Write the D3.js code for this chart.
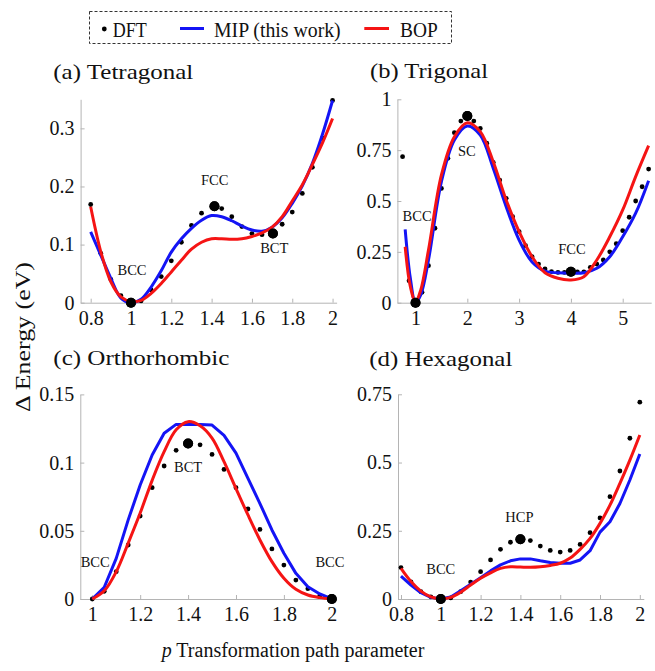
<!DOCTYPE html>
<html>
<head>
<meta charset="utf-8">
<script src="https://cdn.jsdelivr.net/npm/d3@7/dist/d3.min.js"></script>
<style>
  html, body { margin: 0; padding: 0; background: #fff; }
  svg { display: block; }
  text { font-family: "Liberation Serif", "Times New Roman", Times, serif; fill: #111; }
</style>
</head>
<body>
<svg id="chart" width="655" height="671"></svg>
<script>
// ---- (a) Tetragonal path ----
const tetraDftP = [0.8, 0.85, 0.9, 0.95, 1.0, 1.05, 1.1, 1.15, 1.2, 1.25, 1.3, 1.35, 1.414, 1.45, 1.5, 1.55, 1.6, 1.65, 1.704, 1.75, 1.8, 1.85, 1.9, 1.95, 2.0];
const tetraDftE = [0.169, 0.085, 0.040, 0.012, 0.0, 0.003, 0.022, 0.045, 0.072, 0.104, 0.133, 0.154, 0.166, 0.162, 0.148, 0.131, 0.119, 0.117, 0.119, 0.135, 0.156, 0.188, 0.233, 0.283, 0.348];
const tetraMarked = [1.0, 1.414, 1.704];
const tetraFitP = [0.8, 0.85, 0.9, 0.95, 1.0, 1.05, 1.1, 1.15, 1.2, 1.25, 1.3, 1.35, 1.4, 1.45, 1.5, 1.55, 1.6, 1.65, 1.7, 1.75, 1.8, 1.85, 1.9, 1.95, 2.0];
const tetraMip = [0.122, 0.082, 0.042, 0.008, 0.0, 0.006, 0.027, 0.055, 0.087, 0.110, 0.128, 0.142, 0.150, 0.148, 0.141, 0.132, 0.125, 0.123, 0.130, 0.146, 0.171, 0.201, 0.240, 0.290, 0.348];
const tetraBop = [0.165, 0.088, 0.036, 0.010, 0.002, 0.004, 0.016, 0.033, 0.053, 0.073, 0.092, 0.104, 0.110, 0.110, 0.109, 0.110, 0.114, 0.120, 0.130, 0.148, 0.175, 0.203, 0.238, 0.275, 0.317];

// ---- (b) Trigonal path ----
const trigDftP = [0.75, 0.875, 1.0, 1.125, 1.25, 1.375, 1.5, 1.625, 1.75, 1.875, 2.0, 2.125, 2.25, 2.375, 2.5, 2.625, 2.75, 2.875, 3.0, 3.125, 3.25, 3.375, 3.5, 3.625, 3.75, 3.875, 4.0, 4.125, 4.25, 4.375, 4.5, 4.625, 4.75, 4.875, 5.0, 5.125, 5.25, 5.375, 5.5];
const trigDftE = [0.718, 0.108, 0.0, 0.051, 0.182, 0.366, 0.562, 0.710, 0.836, 0.893, 0.918, 0.893, 0.857, 0.784, 0.690, 0.603, 0.513, 0.423, 0.349, 0.280, 0.226, 0.190, 0.166, 0.153, 0.149, 0.149, 0.152, 0.152, 0.152, 0.174, 0.190, 0.210, 0.250, 0.290, 0.354, 0.420, 0.500, 0.570, 0.657];
const trigMarked = [1.0, 2.0, 4.0];
const trigFitP = [0.8, 0.9, 1.0, 1.1, 1.25, 1.5, 1.75, 2.0, 2.25, 2.5, 2.75, 3.0, 3.25, 3.5, 3.75, 4.0, 4.25, 4.5, 4.75, 5.0, 5.25, 5.5];
const trigMip = [0.361, 0.120, 0.0, 0.038, 0.210, 0.595, 0.800, 0.869, 0.824, 0.661, 0.472, 0.308, 0.200, 0.155, 0.147, 0.145, 0.147, 0.169, 0.226, 0.324, 0.440, 0.600];
const trigBop = [0.275, 0.079, 0.005, 0.062, 0.259, 0.628, 0.816, 0.885, 0.841, 0.693, 0.505, 0.349, 0.226, 0.147, 0.120, 0.112, 0.128, 0.210, 0.324, 0.456, 0.620, 0.772];

// ---- (c) Orthorhombic path ----
const orthoP = [1.0, 1.05, 1.1, 1.15, 1.2, 1.25, 1.3, 1.35, 1.4, 1.45, 1.5, 1.55, 1.6, 1.65, 1.7, 1.75, 1.8, 1.85, 1.9, 1.95, 2.0];
const orthoDftE = [0.0, 0.0056, 0.020, 0.0396, 0.0608, 0.0816, 0.0975, 0.109, 0.114, 0.113, 0.106, 0.095, 0.0816, 0.066, 0.051, 0.0367, 0.0249, 0.0139, 0.0076, 0.0024, 0.0];
const orthoMarked = [1.4, 2.0];
const orthoMip = [0.0, 0.0086, 0.0298, 0.058, 0.0836, 0.1056, 0.1215, 0.128, 0.128, 0.128, 0.1275, 0.120, 0.107, 0.0885, 0.070, 0.0506, 0.0335, 0.0188, 0.009, 0.0037, 0.0];
const orthoBop = [0.0, 0.006, 0.020, 0.041, 0.063, 0.087, 0.108, 0.124, 0.130, 0.127, 0.118, 0.1007, 0.081, 0.0616, 0.0433, 0.0274, 0.0152, 0.0071, 0.0029, 0.001, 0.0];

// ---- (d) Hexagonal path ----
const hexP = [0.8, 0.85, 0.9, 0.95, 1.0, 1.05, 1.1, 1.15, 1.2, 1.25, 1.3, 1.35, 1.4, 1.45, 1.5, 1.55, 1.6, 1.65, 1.7, 1.75, 1.8, 1.85, 1.9, 1.95, 2.0];
const hexDftE = [0.115, 0.063, 0.027, 0.008, 0.0, 0.004, 0.027, 0.062, 0.100, 0.143, 0.182, 0.208, 0.219, 0.214, 0.194, 0.178, 0.172, 0.178, 0.200, 0.243, 0.297, 0.375, 0.469, 0.589, 0.721];
const hexMarked = [1.0, 1.4];
const hexMip = [0.084, 0.051, 0.023, 0.006, 0.0, 0.007, 0.030, 0.054, 0.078, 0.103, 0.125, 0.140, 0.147, 0.147, 0.140, 0.134, 0.131, 0.131, 0.143, 0.177, 0.245, 0.283, 0.350, 0.436, 0.531];
const hexBop = [0.112, 0.064, 0.029, 0.008, 0.001, 0.006, 0.025, 0.051, 0.076, 0.096, 0.112, 0.118, 0.117, 0.116, 0.118, 0.123, 0.131, 0.150, 0.182, 0.222, 0.277, 0.344, 0.424, 0.509, 0.601];

// ---- tick labels ----
const tetraXTicks = [0.8, 1, 1.2, 1.4, 1.6, 1.8, 2];
const tetraYTicks = [0, 0.1, 0.2, 0.3];
const trigXTicks = [1, 2, 3, 4, 5];
const trigYTicks = [0, 0.25, 0.5, 0.75, 1];
const orthoXTicks = [1, 1.2, 1.4, 1.6, 1.8, 2];
const orthoYTicks = [0, 0.05, 0.1, 0.15];
const hexXTicks = [0.8, 1, 1.2, 1.4, 1.6, 1.8, 2];
const hexYTicks = [0, 0.25, 0.5, 0.75];

// ---- structure labels (p, energy) ----
const tetraNotes = [["BCC", 1.005, 0.048], ["FCC", 1.415, 0.203], ["BCT", 1.711, 0.086]];
const trigNotes = [["BCC", 1.03, 0.402], ["SC", 1.99, 0.723], ["FCC", 4.02, 0.238]];
const orthoNotes = [["BCC", 1.012, 0.0237], ["BCT", 1.40, 0.0933], ["BCC", 1.992, 0.0237]];
const hexNotes = [["BCC", 1.0, 0.0903], ["HCP", 1.395, 0.283]];

const MIP_COLOR = "#1414f5";
const BOP_COLOR = "#f51414";
const AXIS_COLOR = "#b4b4b4";
const SERIF = '"Liberation Serif", "Times New Roman", Times, serif';

const svg = d3.select("#chart");
const fmt = v => String(v);

const panels = [
  { title: "(a) Tetragonal", titleX: 53.3, titleY: 79, titleLen: 140,
    xDomain: [0.75, 2.02], xRange: [80.6, 336.6], yDomain: [0, 0.35], yRange: [302.7, 99.3],
    xTicks: tetraXTicks, yTicks: tetraYTicks,
    dftP: tetraDftP, dftE: tetraDftE, marked: tetraMarked,
    fitP: tetraFitP, mip: tetraMip, bop: tetraBop, mipCurve: d3.curveCatmullRom,
    notes: tetraNotes },
  { title: "(b) Trigonal", titleX: 370, titleY: 78.3, titleLen: 118,
    xDomain: [0.65, 5.55], xRange: [397.4, 651.2], yDomain: [0, 1], yRange: [302.7, 99.3],
    xTicks: trigXTicks, yTicks: trigYTicks,
    dftP: trigDftP, dftE: trigDftE, marked: trigMarked,
    fitP: trigFitP, mip: trigMip, bop: trigBop, mipCurve: d3.curveCatmullRom,
    notes: trigNotes },
  { title: "(c) Orthorhombic", titleX: 53.3, titleY: 365, titleLen: 176,
    xDomain: [0.95, 2.02], xRange: [80.3, 336.6], yDomain: [0, 0.15], yRange: [599, 394.4],
    xTicks: orthoXTicks, yTicks: orthoYTicks,
    dftP: orthoP, dftE: orthoDftE, marked: orthoMarked,
    fitP: orthoP, mip: orthoMip, bop: orthoBop, mipCurve: d3.curveLinear,
    notes: orthoNotes },
  { title: "(d) Hexagonal", titleX: 369.3, titleY: 366, titleLen: 143,
    xDomain: [0.785, 2.02], xRange: [398, 643.8], yDomain: [0, 0.75], yRange: [599, 394.3],
    xTicks: hexXTicks, yTicks: hexYTicks,
    dftP: hexP, dftE: hexDftE, marked: hexMarked,
    fitP: hexP, mip: hexMip, bop: hexBop, mipCurve: d3.curveLinear,
    notes: hexNotes }
];

panels.forEach(pn => {
  const x = d3.scaleLinear().domain(pn.xDomain).range(pn.xRange);
  const y = d3.scaleLinear().domain(pn.yDomain).range(pn.yRange);
  const g = svg.append("g");

  // axes: left and bottom only, ticks pointing inward
  const xAxis = d3.axisBottom(x).tickValues(pn.xTicks).tickFormat(fmt)
    .tickSizeInner(-4).tickSizeOuter(0).tickPadding(8);
  const yAxis = d3.axisLeft(y).tickValues(pn.yTicks).tickFormat(fmt)
    .tickSizeInner(-4).tickSizeOuter(0).tickPadding(6);

  const gx = g.append("g").attr("transform", `translate(0,${pn.yRange[0]})`).call(xAxis);
  const gy = g.append("g").attr("transform", `translate(${pn.xRange[0]},0)`).call(yAxis);
  [gx, gy].forEach(a => {
    a.attr("font-family", SERIF).attr("font-size", 20);
    a.select(".domain").attr("stroke", AXIS_COLOR).attr("stroke-width", 1);
    a.selectAll(".tick line").attr("stroke", AXIS_COLOR).attr("stroke-width", 1);
    a.selectAll(".tick text").attr("fill", "#111");
  });

  // title
  g.append("text").attr("x", pn.titleX).attr("y", pn.titleY)
    .attr("font-size", 22).attr("textLength", pn.titleLen)
    .attr("lengthAdjust", "spacingAndGlyphs").text(pn.title);

  // DFT points
  const dft = pn.dftP.map((p, i) => ({ p, e: pn.dftE[i], big: pn.marked.includes(p) }));
  g.append("g").selectAll("circle").data(dft).join("circle")
    .attr("cx", d => x(d.p)).attr("cy", d => y(d.e))
    .attr("r", d => d.big ? 5 : 2.4).attr("fill", "#000");

  // fitted potentials
  const mipLine = d3.line().x((d, i) => x(pn.fitP[i])).y(d => y(d)).curve(pn.mipCurve);
  const bopLine = d3.line().x((d, i) => x(pn.fitP[i])).y(d => y(d)).curve(d3.curveCatmullRom);
  g.append("path").attr("d", mipLine(pn.mip)).attr("fill", "none")
    .attr("stroke", MIP_COLOR).attr("stroke-width", 3).attr("stroke-linejoin", "round");
  g.append("path").attr("d", bopLine(pn.bop)).attr("fill", "none")
    .attr("stroke", BOP_COLOR).attr("stroke-width", 3).attr("stroke-linejoin", "round");

  // marked structures stay on top
  g.append("g").selectAll("circle").data(dft.filter(d => d.big)).join("circle")
    .attr("cx", d => x(d.p)).attr("cy", d => y(d.e)).attr("r", 5).attr("fill", "#000");

  // structure labels
  g.append("g").selectAll("text").data(pn.notes).join("text")
    .attr("x", d => x(d[1])).attr("y", d => y(d[2]))
    .attr("text-anchor", "middle").attr("font-size", 14.5)
    .attr("fill", "#222").text(d => d[0]);
});

// shared axis titles
svg.append("text")
  .attr("transform", "translate(30,337) rotate(-90)")
  .attr("text-anchor", "middle").attr("font-size", 22)
  .attr("textLength", 150).attr("lengthAdjust", "spacingAndGlyphs")
  .text("Δ Energy (eV)");

const xt = svg.append("text").attr("x", 161.7).attr("y", 657).attr("font-size", 20);
xt.append("tspan").attr("font-style", "italic").text("p");
xt.append("tspan").text(" Transformation path parameter");

// legend
const lg = svg.append("g");
lg.append("rect").attr("x", 89.5).attr("y", 11.5).attr("width", 362).attr("height", 32)
  .attr("fill", "none").attr("stroke", "#333").attr("stroke-width", 1)
  .attr("stroke-dasharray", "3,2");
lg.append("circle").attr("cx", 104.3).attr("cy", 29).attr("r", 2.4).attr("fill", "#000");
lg.append("text").attr("x", 112.7).attr("y", 36.7).attr("font-size", 22)
  .attr("textLength", 34).attr("lengthAdjust", "spacingAndGlyphs").text("DFT");
lg.append("line").attr("x1", 180).attr("x2", 204).attr("y1", 28.5).attr("y2", 28.5)
  .attr("stroke", MIP_COLOR).attr("stroke-width", 3);
lg.append("text").attr("x", 214).attr("y", 36.7).attr("font-size", 22)
  .attr("textLength", 126.7).attr("lengthAdjust", "spacingAndGlyphs").text("MIP (this work)");
lg.append("line").attr("x1", 364.3).attr("x2", 389).attr("y1", 28.5).attr("y2", 28.5)
  .attr("stroke", BOP_COLOR).attr("stroke-width", 3);
lg.append("text").attr("x", 400).attr("y", 36.7).attr("font-size", 22)
  .attr("textLength", 37.7).attr("lengthAdjust", "spacingAndGlyphs").text("BOP");
</script>
</body>
</html>
